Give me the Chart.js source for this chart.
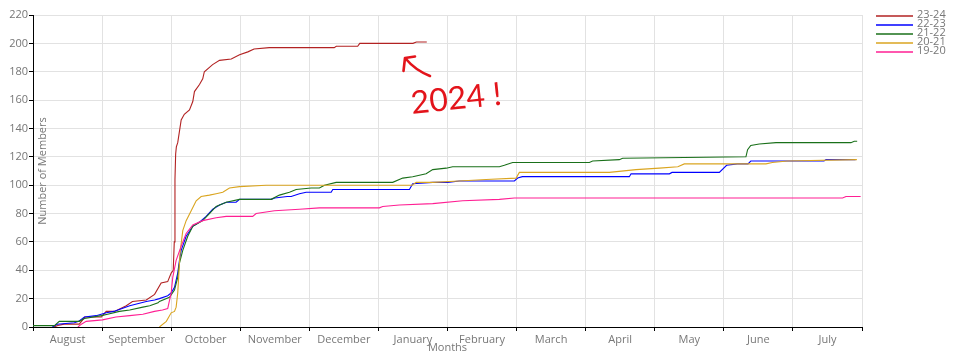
<!DOCTYPE html>
<html>
<head>
<meta charset="utf-8">
<script src="https://cdn.jsdelivr.net/npm/chart.js@4/dist/chart.umd.min.js"></script>
<style>
html,body{margin:0;padding:0;background:#fff;}
#wrap{width:962px;height:352px;position:relative;}
</style>
</head>
<body>
<div id="wrap"><canvas id="c" width="962" height="352"></canvas></div>
<script>
// ---- Data (x = months since 1 August, y = number of members) ----
const monthLabels = ["August","September","October","November","December","January","February","March","April","May","June","July"];
const seasonNames = ["23-24","22-23","21-22","20-21","19-20"];
const seasonColors = ["#b22222","#0000ff","#1a701a","#daa520","#ff1f93"];

const s2324_x = [0.3,0.36,0.45,0.67,0.75,0.99,1.06,1.18,1.35,1.44,1.64,1.76,1.855,1.95,2.0,2.03,2.045,2.055,2.065,2.075,2.095,2.145,2.19,2.265,2.313,2.337,2.41,2.457,2.48,2.6,2.7,2.87,2.99,3.11,3.2,3.42,4.36,4.39,4.7,4.73,5.5,5.55,5.7];
const s2324_y = [0,1,2,2,7,7,11,11,15,18,19,23,31,32,38,40,60,104,122,127,130,146,150,153,159,166,171,175,180,185,188,189,192,194,196,197,197,198,198,200,200,201,201];

const s2223_x = [0.28,0.35,0.6,0.66,0.745,0.915,1.06,1.17,1.4,1.64,1.76,1.83,1.95,2.0,2.048,2.095,2.12,2.145,2.217,2.313,2.41,2.506,2.602,2.7,2.8,2.94,2.99,3.447,3.5,3.68,3.737,3.857,3.954,4.316,4.339,5.449,5.496,5.786,6.003,6.172,6.968,7.016,7.084,7.229,8.632,8.657,9.212,9.25,9.935,10.04,10.195,10.35,10.39,10.948,11.45,11.48,11.907];
const s2223_y = [0,2,3,4,7,8,10,11,15,18,19,20,22,24,28,38,47,54,64,71,74,78,83,86,88,88,90,90,91,92,92,94,95,95,97,97,101,102,102,103,103,105,106,106,106,108,108,109,109,114,115,115,117,117,117,118,118];

const s2122_x = [0,0.31,0.38,0.67,0.745,0.99,1.08,1.25,1.4,1.59,1.69,1.81,1.83,1.975,2.048,2.095,2.12,2.168,2.24,2.313,2.457,2.554,2.651,2.796,2.988,3.447,3.567,3.712,3.809,4.026,4.146,4.219,4.388,5.207,5.352,5.496,5.69,5.786,5.98,6.075,6.751,6.823,6.943,8.054,8.101,8.487,8.535,10.32,10.344,10.39,10.513,10.755,11.84,11.888,11.93];
const s2122_y = [1,1,4,4,6,8,9,11,12,14,15,17,18,21,26,35,45,54,64,71,75,80,85,88,90,90,93,95,97,98,98,100,102,102,105,106,108,111,112,113,113,114,116,116,117,118,119,120,125,128,129,130,130,131,131];

const s2021_x = [1.83,1.93,2.0,2.048,2.072,2.095,2.106,2.12,2.13,2.168,2.217,2.29,2.362,2.434,2.554,2.651,2.747,2.844,2.988,3.375,5.49,5.546,5.786,6.172,6.559,6.993,7.04,8.343,8.729,9.067,9.334,9.428,10.61,10.702,10.92,11.926];
const s2021_y = [0,4,10,11,14,24,33,45,53,68,75,82,89,92,93,94,95,98,99,100,100,102,102,103,104,105,109,109,111,112,113,115,115,116,117,118];

const s1920_x = [0.65,0.7,0.77,1.006,1.2,1.4,1.59,1.758,1.874,1.95,2.0,2.023,2.072,2.145,2.217,2.313,2.457,2.651,2.796,3.18,3.23,3.495,3.857,4.146,5.014,5.062,5.304,5.786,6.22,6.751,6.968,11.719,11.768,11.98];
const s1920_y = [0,2,4,5,7,8,9,11,12,13,24,35,47,57,66,72,75,77,78,78,80,82,83,84,84,85,86,87,89,90,91,91,92,92];

const seriesX = [s2324_x, s2223_x, s2122_x, s2021_x, s1920_x];
const seriesY = [s2324_y, s2223_y, s2122_y, s2021_y, s1920_y];

const yMin = 0, yMax = 220, yStep = 20;
const xMin = 0, xMax = 12;

// ---- Build datasets ----
const datasets = seasonNames.map((name, i) => ({
  label: name,
  data: seriesX[i].map((x, j) => ({x: x, y: seriesY[i][j]})),
  borderColor: seasonColors[i],
  backgroundColor: seasonColors[i],
  borderWidth: 1.1,
  pointRadius: 0,
  tension: 0,
  fill: false,
  order: seasonNames.length - i
}));

const FONT = "'Open Sans', 'Noto Sans', sans-serif";
const TXT = '#777';

const extras = {
  id: 'extras',
  afterDraw(chart) {
    const ctx = chart.ctx;
    const a = chart.chartArea;
    ctx.save();
    // y-axis title inside plot
    ctx.fillStyle = TXT;
    ctx.font = "11px " + FONT;
    ctx.textAlign = 'center';
    ctx.textBaseline = 'middle';
    ctx.translate(43, (a.top + a.bottom) / 2);
    ctx.rotate(-Math.PI / 2);
    ctx.fillText('Number of Members', 0, 0);
    ctx.restore();

    // x-axis title
    ctx.save();
    ctx.fillStyle = TXT;
    ctx.font = "11px " + FONT;
    ctx.textAlign = 'center';
    ctx.textBaseline = 'alphabetic';
    ctx.fillText('Months', (a.left + a.right) / 2, 351);
    ctx.restore();

    // legend
    ctx.save();
    ctx.font = "11px " + FONT;
    ctx.textAlign = 'left';
    ctx.textBaseline = 'alphabetic';
    const ys = [16, 25, 34, 43, 52];
    seasonNames.forEach((n, i) => {
      ctx.strokeStyle = seasonColors[i];
      ctx.lineWidth = 1.5;
      ctx.beginPath();
      ctx.moveTo(876, ys[i]);
      ctx.lineTo(913, ys[i]);
      ctx.stroke();
      ctx.fillStyle = TXT;
      ctx.fillText(n, 917, ys[i] + 1.5);
    });
    ctx.restore();

    // annotation arrow + text
    ctx.save();
    ctx.strokeStyle = '#e3141b';
    ctx.lineWidth = 2.6;
    ctx.lineCap = 'round';
    ctx.lineJoin = 'round';
    ctx.beginPath();
    ctx.moveTo(430, 76);
    ctx.quadraticCurveTo(415, 70, 406, 59);
    ctx.stroke();
    ctx.beginPath();
    ctx.moveTo(403.5, 71);
    ctx.lineTo(405, 58);
    ctx.lineTo(415, 56.5);
    ctx.stroke();
    ctx.fillStyle = '#e3141b';
    ctx.font = "32px Lato, " + FONT;
    ctx.translate(412, 114);
    ctx.rotate(-6 * Math.PI / 180);
    ctx.textAlign = 'left';
    ctx.textBaseline = 'alphabetic';
    ctx.fillText('2024 !', 0, 0);
    ctx.restore();
  }
};

new Chart(document.getElementById('c'), {
  type: 'line',
  data: { datasets: datasets },
  options: {
    responsive: false,
    animation: false,
    events: [],
    layout: { padding: { top: 15, right: 100, left: 0, bottom: 0 } },
    plugins: { legend: { display: false }, tooltip: { enabled: false }, title: { display: false } },
    scales: {
      x: {
        type: 'linear',
        min: xMin, max: xMax,
        afterFit(s) { s.height = 25; },
        afterBuildTicks(s) {
          const t = [];
          for (let v = xMin; v <= xMax + 1e-9; v += 0.5) t.push({value: v});
          s.ticks = t;
        },
        ticks: {
          autoSkip: false, maxRotation: 0, minRotation: 0,
          padding: 2,
          color: TXT,
          font: { family: FONT, size: 11 },
          callback: (v) => Number.isInteger(v) ? '' : monthLabels[Math.floor(v)]
        },
        grid: {
          color: (c) => (c.tick && Number.isInteger(c.tick.value)) ? '#e2e2e2' : 'rgba(0,0,0,0)',
          tickColor: (c) => (c.tick && Number.isInteger(c.tick.value)) ? '#000' : 'rgba(0,0,0,0)',
          tickLength: 4,
          lineWidth: 1
        },
        border: { color: '#000', width: 1 }
      },
      y: {
        min: yMin, max: yMax,
        afterFit(s) { s.width = 33; },
        ticks: {
          stepSize: yStep,
          padding: 1,
          color: TXT,
          font: { family: FONT, size: 11 }
        },
        grid: { color: '#e2e2e2', tickColor: '#000', tickLength: 4, lineWidth: 1 },
        border: { color: '#000', width: 1 }
      }
    }
  },
  plugins: [extras]
});
</script>
</body>
</html>
